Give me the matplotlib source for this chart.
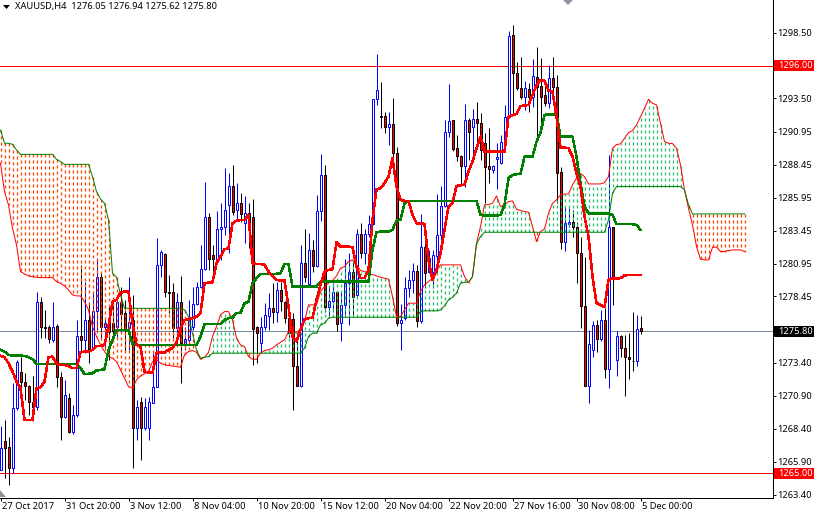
import matplotlib
matplotlib.use("Agg")
import matplotlib.pyplot as plt
from matplotlib.patches import Rectangle, Polygon
from matplotlib.transforms import blended_transform_factory, ScaledTranslation

opens = [
1265.27,1267.43,1267.0,1265.4,1269.96,1272.69,1271.98,1271.68,1270.46,1270.08,
1278.06,1276.11,1276.11,1275.15,1276.21,1272.31,1269.3,1270.72,1268.18,1269.45,
1275.48,1275.15,1276.67,1274.47,1277.38,1279.96,1276.11,1276.42,1276.42,1276.16,
1278.01,1277.17,1276.03,1276.67,1268.44,1270.41,1268.44,1268.44,1270.39,1271.6,
1280.85,1281.68,1278.82,1278.77,1276.03,1278.06,1274.85,1275.15,1276.16,1277.86,
1279.2,1280.54,1284.47,1281.61,1281.33,1283.55,1283.71,1285.4,1286.85,1285.02,
1285.53,1284.01,1284.77,1284.52,1276.11,1274.9,1276.16,1277.0,
1277.56,1277.3,1278.95,1278.06,1276.85,1276.72,1273.13,1271.66,1280.98,1279.41,
1281.99,1280.77,1284.95,1287.69,1277.68,1278.14,1278.82,1276.42,1277.81,1279.46,
1280.29,1278.57,1283.18,1281.79,1283.18,1283.94,1293.43,1292.14,1292.14,1291.36,
1291.53,1289.38,1276.47,1276.8,1279.08,1279.71,1280.39,1276.62,1282.19,1280.29,
1280.34,1281.53,1283.13,1285.33,1290.93,1291.84,1289.71,1289.15,1288.39,1291.86,
1291.36,1291.91,1291.61,1290.09,1288.37,1288.07,1288.87,1288.57,
1290.09,1292.12,1298.32,1295.46,1294.27,1293.59,1294.22,1293.64,1295.1,1294.47,
1293.76,1293.13,1295.03,1294.4,1287.89,1282.57,1283.96,1284.12,1283.76,1281.74,
1277.74,1271.68,1274.39,1276.29,1275.2,1276.67,1272.92,1283.69,1273.63,1275.46,
1274.52,1273.84,1273.58,1273.53,1276.05]

closes = [
1266.92,1266.92,1265.4,1269.96,1273.45,1271.98,1271.68,1270.46,1270.03,1278.01,
1276.16,1276.06,1275.2,1276.16,1272.31,1269.3,1270.97,1268.18,1269.45,1275.45,
1275.15,1276.67,1274.47,1277.38,1279.91,1276.11,1276.42,1275.73,1275.86,1278.01,
1277.12,1276.03,1276.54,1268.44,1270.03,1268.44,1270.03,1270.41,1271.6,1280.85,
1281.81,1278.82,1278.74,1276.03,1278.06,1274.9,1275.22,1276.79,1277.86,1279.2,
1280.54,1284.47,1281.28,1281.33,1283.55,1283.71,1285.02,1286.87,1284.9,1285.53,
1284.72,1284.77,1283.5,1275.98,1275.65,1276.16,1277.05,1277.55,
1277.3,1278.95,1278.14,1276.85,1275.66,1273.13,1271.66,1280.98,1279.91,1281.99,
1280.77,1284.95,1287.69,1277.68,1278.11,1278.82,1276.34,1277.81,1279.46,1280.29,
1278.39,1283.18,1281.79,1283.18,1283.94,1293.43,1294.14,1292.09,1291.36,1291.53,
1289.38,1276.47,1276.67,1279.08,1279.71,1280.39,1276.62,1282.19,1280.22,1281.36,
1281.61,1283.13,1285.33,1290.93,1291.79,1289.66,1289.15,1288.39,1291.86,1290.93,
1291.91,1291.61,1289.58,1288.32,1288.17,1288.37,1289.08,1290.17,
1292.12,1298.27,1295.46,1294.27,1293.64,1294.27,1293.64,1295.21,1294.4,1293.64,
1293.18,1295.03,1294.4,1287.86,1282.57,1284.02,1284.12,1283.76,1281.74,1277.76,
1271.68,1274.85,1276.29,1275.2,1276.67,1272.92,1283.71,1279.84,1275.41,1274.52,
1273.84,1273.68,1273.53,1275.96,1275.8]

highs = [
1268.57,1269.07,1267.8,1271.86,1273.63,1273.88,1272.62,1271.73,1272.41,1278.77,
1278.44,1277.43,1276.29,1278.06,1276.36,1272.74,1272.11,1271.1,1270.21,1276.67,
1280.85,1279.58,1278.06,1278.82,1281.35,1280.34,1276.92,1277.68,1277.93,1278.44,
1279.2,1278.19,1279.96,1278.57,1270.59,1270.84,1270.72,1270.84,1274.14,1282.87,
1281.99,1281.73,1280.09,1279.45,1278.69,1280.01,1276.16,1278.19,1279.2,1279.58,
1282.36,1287.18,1284.77,1282.36,1284.97,1285.53,1288.19,1287.81,1288.44,1287.05,
1286.29,1286.09,1285.53,1285.83,1276.21,1276.92,1277.93,1278.69,
1279.46,1279.58,1279.58,1278.1,1277.43,1277.18,1275.66,1282.37,1283.56,1283.25,
1282.75,1286.17,1289.25,1288.45,1279.2,1279.46,1278.9,1278.82,1281.28,1281.73,
1281.23,1283.56,1284.01,1283.56,1284.65,1293.48,1296.85,1294.72,1292.5,1292.5,
1293.51,1289.84,1277.89,1279.96,1280.47,1280.98,1280.85,1284.72,1282.62,1281.99,
1281.99,1286.24,1286.87,1291.86,1294.57,1291.86,1290.72,1289.2,1293.05,1291.99,
1292.67,1293.2,1292.37,1290.85,1291.23,1288.45,1290.09,1290.72,
1293.0,1298.62,1299.08,1296.3,1296.67,1294.83,1294.65,1296.5,1297.43,1296.55,
1294.65,1296.04,1296.67,1295.28,1288.32,1285.28,1285.15,1285.03,1284.07,1283.0,
1281.48,1275.91,1276.55,1276.67,1277.43,1277.56,1289.2,1283.76,1275.84,1275.53,
1275.53,1275.66,1277.25,1277.05,1276.94]

lows = [
1265.3,1264.64,1264.13,1265.0,1269.83,1270.59,1270.59,1269.45,1268.95,1269.83,
1275.27,1275.27,1274.9,1275.02,1271.6,1267.55,1269.2,1268.06,1268.0,1269.3,
1274.14,1274.14,1273.38,1274.39,1275.91,1275.15,1274.39,1273.63,1275.4,1275.4,
1275.65,1274.26,1274.39,1265.4,1267.55,1266.03,1268.31,1267.55,1270.34,1271.55,
1279.96,1278.44,1277.17,1275.27,1275.15,1271.86,1274.39,1274.95,1275.91,1277.81,
1279.07,1280.47,1280.47,1279.88,1281.23,1281.23,1283.12,1281.73,1284.64,1284.26,
1284.14,1282.49,1282.11,1273.25,1273.38,1274.14,1275.91,1275.91,
1276.42,1276.54,1277.38,1276.42,1275.4,1269.83,1271.61,1271.56,1279.58,1279.33,
1280.34,1280.72,1284.22,1277.3,1276.8,1277.3,1275.86,1275.03,1276.92,1276.29,
1276.92,1278.44,1281.36,1280.92,1283.0,1283.89,1293.0,1291.28,1290.85,1289.96,
1287.81,1276.22,1274.39,1276.67,1278.44,1278.7,1276.16,1276.47,1279.08,1280.22,
1279.08,1280.22,1282.55,1285.28,1290.6,1289.53,1288.77,1286.87,1286.8,1288.82,
1289.2,1290.09,1288.82,1285.58,1287.05,1287.81,1286.62,1288.52,
1290.04,1291.99,1292.24,1294.14,1293.46,1292.62,1292.45,1292.83,1290.6,1291.48,
1292.95,1292.8,1294.02,1285.53,1282.06,1281.94,1283.71,1283.0,1279.51,1276.09,
1271.68,1270.34,1273.88,1274.2,1275.03,1272.24,1271.53,1277.81,1272.37,1273.84,
1270.92,1272.19,1272.75,1273.2,1275.62]

tenkan = [
1273.93,1273.83,1273.38,1272.74,1271.98,1271.48,1269.07,1269.07,1269.07,1271.48,
1271.55,1271.98,1273.83,1273.88,1273.33,1273.25,1273.25,1273.17,1273.0,1273.0,
1274.19,1274.26,1274.26,1274.39,1274.69,1274.69,1274.77,1276.16,1278.06,1278.19,
1278.74,1278.82,1278.82,1276.42,1274.77,1274.64,1272.74,1272.67,1272.67,1274.14,
1274.19,1274.19,1274.39,1274.52,1274.95,1276.03,1276.67,1276.72,1276.79,1276.92,
1277.17,1279.45,1279.5,1279.53,1280.97,1281.48,1282.04,1282.11,1284.01,1284.21,
1284.26,1284.26,1284.64,1280.97,1280.92,1280.92,1280.85,1280.34,
1280.01,1279.71,1279.66,1279.66,1277.68,1275.4,1275.03,1275.91,1276.72,1276.8,
1276.8,1278.19,1279.33,1280.34,1280.47,1280.52,1282.55,1282.24,1282.24,1282.24,
1282.19,1280.72,1279.84,1279.84,1280.47,1284.27,1286.6,1286.67,1287.05,1287.56,
1288.95,1286.8,1285.79,1285.71,1285.71,1284.65,1284.01,1284.01,1283.96,1281.23,
1279.71,1280.47,1281.73,1283.51,1285.28,1285.58,1286.85,1286.9,1286.93,1287.94,
1288.7,1289.71,1290.6,1289.46,1289.46,1289.46,1289.46,1289.46,1289.46,
1292.12,1292.22,1292.32,1292.93,1292.95,1293.0,1293.76,1294.52,1294.9,1294.83,
1294.09,1294.02,1292.12,1289.76,1289.76,1289.71,1289.08,1287.81,1286.8,1284.52,
1283.0,1279.96,1277.94,1277.81,1277.63,1279.71,1279.81,1279.81,1279.84,1280.04,
1280.09,1280.09,1280.09,1280.09]

kijun = [
1274.39,1274.26,1274.01,1273.96,1273.96,1273.96,1273.93,1273.83,1273.68,1273.33,
1273.33,1273.33,1273.33,1273.33,1273.33,1273.33,1273.33,1273.33,1273.33,1273.33,
1273.0,1272.57,1272.57,1272.62,1272.82,1272.87,1272.92,1274.39,1275.15,1275.91,
1275.91,1275.91,1275.86,1274.85,1274.77,1274.77,1274.77,1274.77,1274.77,1274.77,
1274.77,1274.77,1274.77,1274.77,1274.77,1274.77,1274.77,1274.77,1274.77,1274.77,
1275.4,1276.34,1276.34,1276.34,1276.34,1276.34,1276.67,1276.79,1276.85,1277.17,
1277.22,1277.93,1278.06,1279.45,1279.83,1280.16,1280.16,1280.16,
1280.17,1280.17,1280.22,1280.92,1280.92,1279.2,1279.2,1279.2,1279.2,1279.2,
1279.2,1279.2,1279.58,1279.58,1279.58,1279.58,1279.58,1279.58,1279.58,1279.58,
1279.58,1279.58,1279.58,1279.58,1279.58,1281.99,1283.33,1283.38,1283.38,1283.38,
1283.51,1284.22,1284.27,1285.53,1285.71,1285.71,1285.71,1285.71,1285.71,1285.71,
1285.71,1285.71,1285.71,1285.71,1285.71,1285.71,1285.71,1285.71,1285.71,1285.71,
1285.71,1285.71,1284.65,1284.6,1284.6,1284.6,1284.6,1284.65,1285.41,
1287.43,1287.69,1287.74,1287.76,1289.08,1289.08,1289.08,1290.2,1290.9,1292.24,
1292.29,1292.29,1292.29,1290.6,1290.6,1290.6,1290.6,1289.08,1287.05,1285.28,
1284.77,1284.77,1284.77,1284.77,1284.77,1284.77,1284.65,1283.94,1283.94,1283.94,
1283.94,1283.94,1283.89,1283.51]

span_a = [
1288.57,1286.42,1285.4,1283.63,1282.36,1280.34,1280.16,1280.01,1279.96,1279.91,
1279.88,1279.88,1279.88,1279.88,1279.58,1279.45,1279.25,1278.95,1278.57,1278.49,
1278.49,1278.06,1277.43,1276.16,1275.4,1274.77,1274.26,1273.88,1273.76,1273.5,
1272.87,1272.24,1271.6,1271.48,1272.11,1272.41,1272.57,1272.74,1273.5,1273.63,
1273.38,1273.25,1273.2,1273.17,1273.12,1273.07,1274.01,1274.26,1274.34,1274.21,
1273.68,1273.83,1274.19,1275.4,1276.16,1277.05,1277.3,1277.3,1276.67,1275.28,
1274.77,1274.64,1273.88,1273.68,1273.68,1274.14,1274.34,1274.39,
1274.52,1274.77,1274.97,1275.15,1275.78,1275.78,1275.66,1276.04,1276.54,1277.81,
1277.81,1277.81,1278.82,1279.2,1279.46,1279.66,1280.01,1280.6,1280.72,1281.1,
1281.23,1280.85,1280.42,1280.34,1280.22,1280.11,1280.01,1279.91,1279.84,1279.76,
1278.44,1276.92,1276.92,1277.43,1277.94,1277.94,1277.94,1278.82,1279.33,1279.58,
1279.84,1280.34,1280.85,1280.85,1280.85,1280.85,1280.85,1280.85,1279.96,1279.5,
1279.96,1282.49,1283.76,1285.41,1285.43,1285.53,1286.09,1285.28,1285.41,
1285.66,1285.71,1285.08,1284.98,1284.9,1284.85,1283.76,1282.62,1283.38,1283.58,
1284.77,1285.53,1285.79,1286.17,1286.22,1286.24,1286.93,1287.43,1287.81,1287.56,
1287.0,1287.0,1287.0,1287.0,1287.1,1287.56,1289.71,1290.0,1290.04,1290.47,
1290.9,1291.05,1291.48,1292.12,1292.75,1293.43,1293.13,1293.0,1291.61,1290.22,
1290.09,1290.07,1289.71,1288.45,1286.55,1285.15,1283.89,1282.24,1281.28,1281.23,
1281.23,1282.19,1282.19,1281.86,1281.86,1281.94,1281.99,1281.99,1281.99,1281.86]

span_b = [
1291.1,1290.09,1290.09,1290.01,1289.58,1289.25,1289.25,1289.25,1289.25,1289.25,
1289.25,1289.25,1289.25,1289.25,1288.87,1288.7,1288.49,1288.49,1288.49,1288.49,
1288.49,1288.49,1288.49,1287.56,1286.42,1285.86,1285.53,1284.26,1280.21,1279.91,
1278.57,1277.55,1277.55,1277.55,1277.55,1277.55,1277.55,1277.55,1277.55,1277.55,
1277.55,1277.55,1277.55,1277.55,1277.55,1277.55,1277.43,1276.92,1275.65,1274.39,
1273.76,1273.83,1273.88,1274.14,1274.14,1274.14,1274.14,1274.14,1274.14,1274.14,
1274.14,1274.14,1274.14,1274.14,1274.14,1274.14,1274.14,1274.14,
1274.14,1274.14,1274.14,1274.14,1274.14,1274.14,1274.14,1274.14,1274.52,1275.4,
1275.66,1275.66,1276.29,1276.42,1276.8,1276.87,1276.87,1276.87,1276.87,1276.87,
1276.87,1276.87,1276.87,1276.87,1276.87,1276.87,1276.87,1276.87,1276.87,1276.87,
1276.87,1276.87,1276.87,1276.87,1276.87,1276.87,1276.87,1277.3,1277.36,1277.36,
1277.36,1277.36,1277.43,1277.73,1278.19,1278.39,1278.7,1279.46,1279.53,1279.53,
1279.96,1282.44,1283.0,1283.33,1283.33,1283.33,1283.33,1283.33,1283.33,
1283.33,1283.33,1283.33,1283.33,1283.33,1283.33,1283.33,1283.33,1283.33,1283.33,
1283.33,1283.33,1283.33,1283.33,1283.33,1283.33,1283.33,1283.33,1283.33,1283.33,
1283.33,1283.33,1283.33,1283.33,1283.33,1284.27,1286.29,1286.8,1286.8,1286.8,
1286.8,1286.8,1286.8,1286.8,1286.8,1286.8,1286.8,1286.8,1286.8,1286.8,
1286.8,1286.8,1286.8,1286.8,1286.55,1285.41,1284.72,1284.72,1284.72,1284.72,
1284.72,1284.72,1284.72,1284.72,1284.72,1284.72,1284.72,1284.72,1284.72,1284.72]

xtick_bars = [0, 16, 32, 48, 64, 80, 96, 112, 128, 144, 160]
xtick_labels = ["27 Oct 2017", "31 Oct 20:00", "3 Nov 12:00", "8 Nov 04:00", "10 Nov 20:00",
                "15 Nov 12:00", "20 Nov 04:00", "22 Nov 20:00", "27 Nov 16:00", "30 Nov 08:00", "5 Dec 00:00"]
ytick_vals = [1298.50, 1293.50, 1290.95, 1288.45, 1285.95, 1283.45, 1280.95, 1278.45,
              1273.40, 1270.90, 1268.40, 1265.90, 1263.40]
level_high, level_low, level_last = 1296.00, 1265.00, 1275.80
header = "XAUUSD,H4  1276.05 1276.94 1275.62 1275.80"

FONT = "Noto Sans"
FS = 6.7
PX = 0.72
plt.rcParams["lines.scale_dashes"] = False
plt.rcParams["font.family"] = FONT

W, H = 814, 514
fig = plt.figure(figsize=(W / 100, H / 100), dpi=100, facecolor="white")
ax = fig.add_axes([0, (H - 497.5) / H, 772.5 / W, 497.5 / H])
ax.set_xlim(-0.125, 193)
ax.set_ylim(1296 - 432 / 13.16, 1296 + 65.5 / 13.16)

for s in ("left", "top"):
    ax.spines[s].set_visible(False)
for s in ("right", "bottom"):
    ax.spines[s].set_linewidth(PX)

# levels
ax.axhline(level_high, color="#ff0000", lw=PX, zorder=1)
ax.axhline(level_low, color="#ff0000", lw=PX, zorder=1)
ax.axhline(level_last, color="#778899", lw=PX, zorder=1)

# candles
for i, (o, h, l, c) in enumerate(zip(opens, highs, lows, closes)):
    up = c >= o
    ec = "#0000ff" if up else "#000000"
    fc = "#ffffff" if up else "#ff0000"
    ax.vlines(i, l, h, color=ec, lw=PX, zorder=2)
    ax.add_patch(Rectangle((i - 0.25, min(o, c)), 0.5, abs(c - o), fc=fc, ec=ec, lw=PX, zorder=2.5))

# cloud hatch: one dotted column per bar, dashes counted from span B
for i, (a, b) in enumerate(zip(span_a, span_b)):
    col = "#2dbd70" if a > b else "#ff4500"
    ax.plot([i, i], [b, a], color=col, lw=0.95,
            linestyle=(0, (2.16, 2.16)), zorder=3, dash_capstyle="butt")

xs = list(range(len(span_a)))
ax.plot(xs, span_a, color="#ff0000", lw=PX, zorder=4)
ax.plot(xs, span_b, color="#008000", lw=PX, zorder=4)
ax.plot(range(len(kijun)), kijun, color="#008000", lw=1.1, antialiased=False, zorder=5)
ax.plot(range(len(tenkan)), tenkan, color="#ff0000", lw=1.1, antialiased=False, zorder=6)

# axes ticks
ax.yaxis.tick_right()
ax.set_yticks(ytick_vals)
ax.set_yticklabels([f"{v:.2f}" for v in ytick_vals], fontsize=FS)
ax.tick_params(axis="y", direction="out", length=2.5, width=PX, pad=1.0, colors="black")
ax.set_xticks(xtick_bars)
ax.set_xticklabels(xtick_labels, fontsize=FS, ha="left")
ax.tick_params(axis="x", direction="out", length=2.5, width=PX, pad=1.0, colors="black")
shift = ScaledTranslation(1.0 / 100, 0, fig.dpi_scale_trans)
for lab in ax.get_xticklabels():
    lab.set_transform(lab.get_transform() + shift)

# boxed price labels
tr = blended_transform_factory(ax.transAxes, ax.transData)
for val, col in [(level_high, "#ff0000"), (level_low, "#ff0000"), (level_last, "#000000")]:
    ax.add_patch(Rectangle((774 / 772.5, val - 5.2 / 13.16), 39.5 / 772.5, 10.4 / 13.16, transform=tr,
                           fc=col, ec="none", clip_on=False, zorder=7))
    ax.text(778 / 772.5, val, f"{val:.2f}", transform=tr, color="white", fontsize=FS,
            va="center", ha="left", clip_on=False, zorder=8)

def px(x, y):
    return (x / W, 1 - y / H)

fig.text(*px(15, 7), header, fontsize=FS, va="center", ha="left", color="black")
fig.add_artist(Polygon([px(3, 5), px(10, 5), px(6.5, 9)], closed=True, fc="black", ec="none", transform=fig.transFigure))
fig.add_artist(Polygon([px(563, 0), px(573, 0), px(568, 5)], closed=True, fc="#8a949e", ec="none", transform=fig.transFigure))
fig.add_artist(Polygon([px(0, 490), px(0, 497), px(6, 497)], closed=True, fc="#8a949e", ec="none", transform=fig.transFigure))

fig.savefig("out.png", dpi=100, facecolor="white")
